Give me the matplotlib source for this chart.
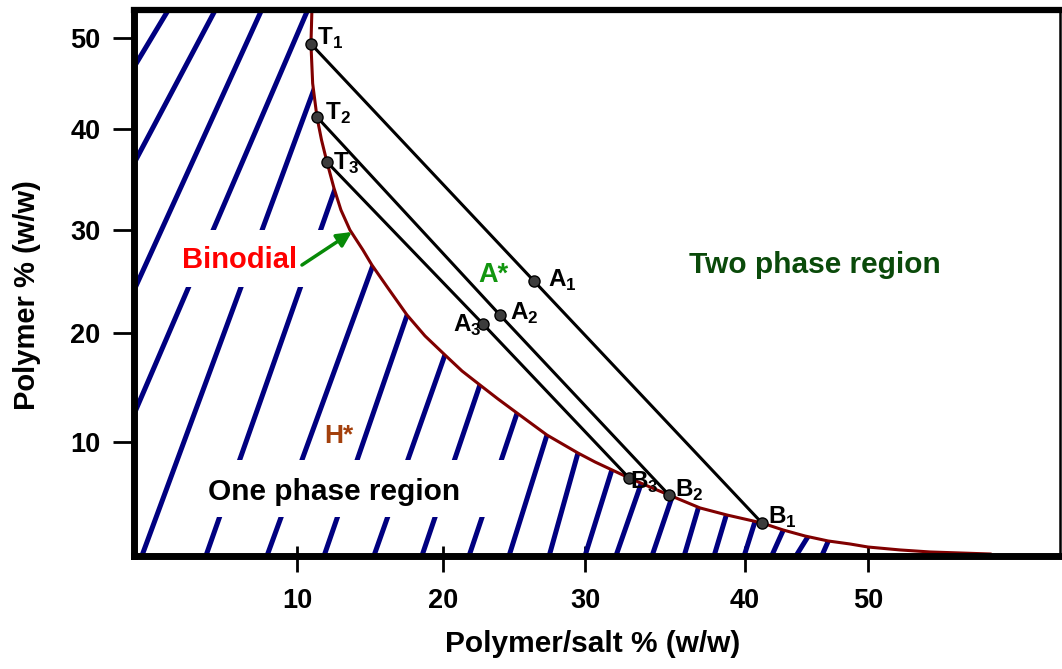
import matplotlib
matplotlib.use("Agg")
import matplotlib.pyplot as plt
from matplotlib.patches import Polygon, Rectangle
import numpy as np

plt.rcParams['font.family'] = ['Liberation Sans', 'DejaVu Sans']
plt.rcParams['font.weight'] = 'bold'
plt.rcParams['mathtext.fontset'] = 'custom'
plt.rcParams['mathtext.rm'] = 'Liberation Sans'
plt.rcParams['mathtext.bf'] = 'Liberation Sans:bold'

# binodial curve: polymer/salt % (x) vs polymer % (y)
binodal_x = [11.05, 10.98, 11.10, 11.40, 11.72, 12.10, 12.59, 13.08, 13.71, 14.62,
             15.25, 16.37, 17.71, 18.97, 20.37, 21.56, 22.82, 24.08, 25.41, 26.46,
             27.51, 29.68, 30.88, 32.07, 33.26, 34.73, 36.06, 38.23, 40.12, 42.57,
             44.05, 45.59, 47.20, 48.74, 50.00, 52.24, 54.34, 56.44, 58.55]
binodal_y = [52.87, 49.41, 45.50, 42.18, 39.90, 37.72, 35.15, 32.97, 30.99, 29.01,
             27.52, 25.25, 22.57, 20.50, 18.61, 17.03, 15.64, 14.26, 12.87, 11.78,
             10.69, 8.91, 8.02, 7.23, 6.44, 5.54, 4.75, 3.47, 2.77, 1.98,
             1.29, 0.69, 0.20, -0.10, -0.40, -0.69, -0.89, -0.99, -1.09]

# tie lines: top phase (T), mixture (A), bottom phase (B)
tie_names = ['1', '2', '3']
top_x = [10.98, 11.40, 12.10]
top_y = [49.41, 42.18, 37.72]
mix_x = [26.60, 24.22, 23.03]
mix_y = [25.94, 22.57, 21.68]
bot_x = [42.57, 36.06, 33.26]
bot_y = [1.98, 4.75, 6.44]

# hatching of the one phase region: x = x0 + slope * y
hatch_x0 = [-21.44, -15.51, -9.47, -5.29, -0.53, 3.94, 8.23, 12.21, 15.71, 19.06,
            22.36, 25.14, 27.92, 30.46, 32.66, 35.18, 37.39, 39.49, 41.61, 43.66,
            45.52, 47.16]
hatch_slope = [0.425, 0.375, 0.322, 0.304, 0.261, 0.249, 0.258, 0.244, 0.250, 0.240,
               0.238, 0.222, 0.198, 0.221, 0.247, 0.240, 0.209, 0.212, 0.224, 0.318,
               0.44, 0.311]

xtick_pos = [10, 20.23, 30.18, 41.39, 50]
xtick_lab = ['10', '20', '30', '40', '50']
ytick_pos = [10, 20.79, 30.99, 40.99, 50]
ytick_lab = ['10', '20', '30', '40', '50']

xmin, xmax = -1.45, 63.45
ymin, ymax = -1.29, 52.77

fig = plt.figure(figsize=(10.62, 6.69), dpi=100)
ax = fig.add_axes([133.5 / 1062, 1 - 556 / 669, (1060 - 133.5) / 1062, (556 - 10) / 669])
ax.set_xlim(xmin, xmax)
ax.set_ylim(ymin, ymax)

# region below the binodial, used to clip the hatching
region = [(xmin - 5, ymax + 5), (binodal_x[0], ymax + 5)]
region += list(zip(binodal_x, binodal_y))
region += [(binodal_x[-1], ymin - 5), (xmin - 5, ymin - 5)]
clip = Polygon(region, closed=True, facecolor='none', edgecolor='none')
ax.add_patch(clip)

yy = np.array([ymin - 5, ymax + 5])
for x0, m in zip(hatch_x0, hatch_slope):
    ln, = ax.plot(x0 + m * yy, yy, color='#000080', lw=3.6,
                  solid_capstyle='butt', zorder=2)
    ln.set_clip_path(clip)

# white backgrounds behind the labels inside the hatching
ax.add_patch(Rectangle((0.75, 25.35), 12.26, 5.64, facecolor='white',
                       edgecolor='none', zorder=2.5))
ax.add_patch(Rectangle((3.20, 2.57), 21.86, 5.65, facecolor='white',
                       edgecolor='none', zorder=2.5))

ax.plot(binodal_x, binodal_y, color='#800000', lw=2.2, zorder=3,
        solid_joinstyle='round')

for i in range(3):
    ax.plot([top_x[i], mix_x[i], bot_x[i]], [top_y[i], mix_y[i], bot_y[i]],
            color='black', lw=2.2, zorder=4)
ax.plot(top_x + mix_x + bot_x, top_y + mix_y + bot_y, 'o', ms=8,
        mfc='#3c3c3c', mec='black', mew=1, zorder=5)

# point labels (offsets in points)
t_off = [(4.3, -0.7), (5.8, -2.2), (4.3, -5.8)]
a_off = [(10.1, -4.3), (7.2, -3.6), (-0.7, -5.8)]
b_off = [(4.3, -0.7), (4.3, -1.4), (0.7, -7.9)]
for i, n in enumerate(tie_names):
    ax.annotate(r'$\mathbf{T}_{%s}$' % n, (top_x[i], top_y[i]), xytext=t_off[i],
                textcoords='offset points', fontsize=17.5, va='baseline', zorder=6)
    ax.annotate(r'$\mathbf{A}_{%s}$' % n, (mix_x[i], mix_y[i]), xytext=a_off[i],
                textcoords='offset points', fontsize=17.5, va='baseline',
                ha='right' if n == '3' else 'left', zorder=6)
    ax.annotate(r'$\mathbf{B}_{%s}$' % n, (bot_x[i], bot_y[i]), xytext=b_off[i],
                textcoords='offset points', fontsize=17.5, va='baseline', zorder=6)

ax.text(6.01, 27.23, 'Binodial', color='#ff0000', fontsize=21, ha='center',
        va='baseline', zorder=6)
ax.annotate('', xy=(13.85, 30.79), xytext=(10.35, 27.52),
            arrowprops=dict(arrowstyle='-|>', color='#078a07', lw=2.5,
                            mutation_scale=22, shrinkA=0, shrinkB=0), zorder=6)
ax.text(23.73, 25.84, 'A*', color='#12960f', fontsize=19.5, ha='center',
        va='baseline', zorder=6)
ax.text(12.94, 9.90, 'H*', color='#a3400c', fontsize=19, ha='center',
        va='baseline', zorder=6)
ax.text(46.29, 26.73, 'Two phase region', color='#0a4a0a', fontsize=21.5,
        ha='center', va='baseline', zorder=6)
ax.text(12.59, 4.26, 'One phase region', color='black', fontsize=21.5,
        ha='center', va='baseline', zorder=6)

# axes frame and ticks
for side, w in [('left', 5), ('bottom', 5), ('top', 4.5), ('right', 1.8)]:
    ax.spines[side].set_linewidth(w)
    ax.spines[side].set_zorder(7)

ax.set_xticks(xtick_pos, xtick_lab)
ax.set_yticks(ytick_pos, ytick_lab)
ax.set_xticks(xtick_pos, minor=True)
ax.xaxis.remove_overlapping_locs = False
ax.tick_params(axis='x', which='major', direction='out', length=11.5, width=2,
               pad=11.5, labelsize=19.5)
ax.tick_params(axis='x', which='minor', direction='in', length=7.2, width=2)
ax.tick_params(axis='y', which='major', direction='out', length=14.8, width=2,
               pad=9, labelsize=19.5)
ax.tick_params(axis='y', which='minor', left=False)

ax.set_xlabel('Polymer/salt % (w/w)', fontsize=21.5, fontweight='bold')
ax.set_ylabel('Polymer % (w/w)', fontsize=21, fontweight='bold')
ax.xaxis.set_label_coords(0.496, -0.1355)
ax.yaxis.set_label_coords(-0.0998, 0.478)

fig.savefig('out.png', dpi=100)
